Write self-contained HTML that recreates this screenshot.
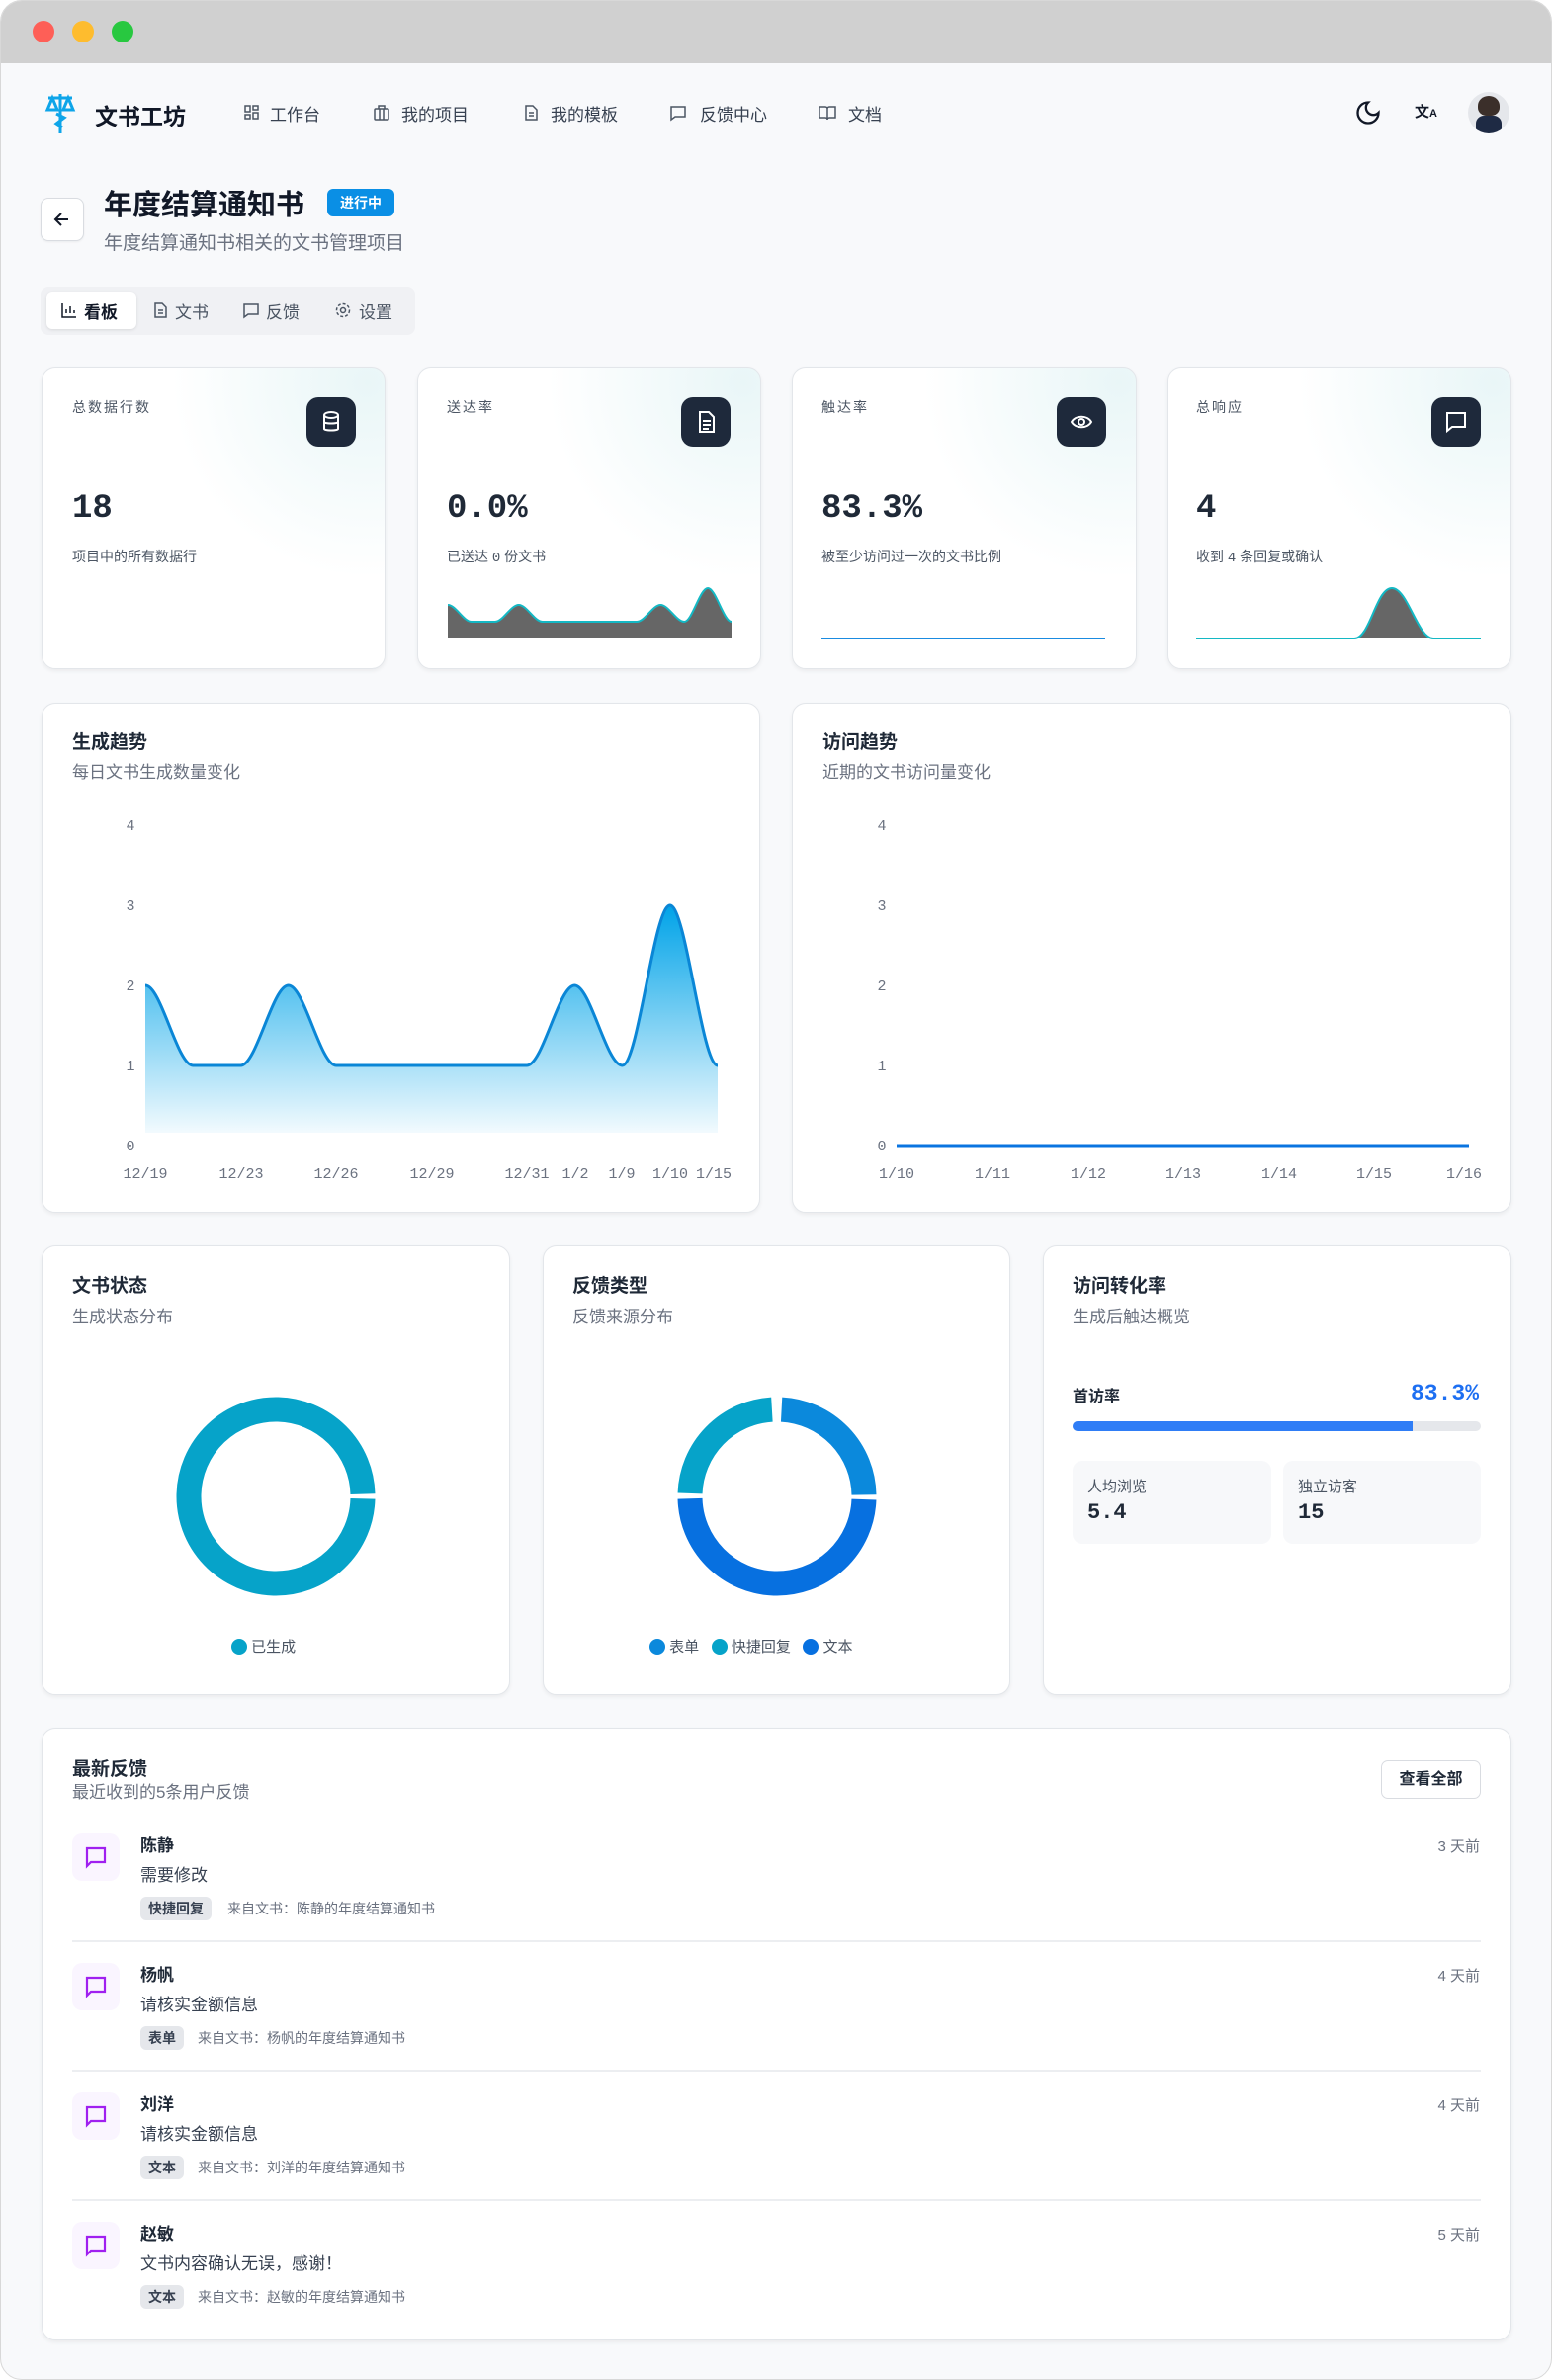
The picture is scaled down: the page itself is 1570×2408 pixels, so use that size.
<!DOCTYPE html>
<html><head><meta charset="utf-8">
<style>
*{margin:0;padding:0;box-sizing:border-box}
body{width:1570px;height:2408px;background:#fff;font-family:"Liberation Sans","Noto Sans CJK SC",sans-serif;color:#1f2937;position:relative;overflow:hidden}
.win{position:absolute;left:0;top:0;width:1570px;height:2408px;background:#f8f9fb;border-radius:22px;overflow:hidden;border:1px solid #d8d8d8}
.tb{position:absolute;left:0;top:0;width:1570px;height:63px;background:#d0d0d0}
.dot{position:absolute;top:20px;width:22px;height:22px;border-radius:50%}
.a{position:absolute}
.card{position:absolute;background:#fff;border:1px solid #e3e6ea;border-radius:14px;box-shadow:0 2px 4px rgba(0,0,0,.06)}
.nav{position:absolute;top:102px;font-size:17px;color:#374151;white-space:nowrap}
.mono{font-family:"Liberation Mono","Noto Sans CJK SC",monospace}
.ct{position:absolute;font-size:19px;font-weight:bold;color:#1f2937}
.cs{position:absolute;font-size:17px;color:#6b7280}
.sl{position:absolute;font-size:14px;color:#4b5563;letter-spacing:2px}
.sv{position:absolute;font-size:34px;font-weight:bold;color:#1f2937}
.sd{position:absolute;font-size:14px;color:#4b5563}
.ib{position:absolute;width:50px;height:50px;border-radius:12px;background:#1e293b}
.tick{font-family:"Liberation Mono",monospace;font-size:15px;fill:#6b7280}
.fb-name{position:absolute;font-size:17px;font-weight:bold;color:#1f2937}
.fb-txt{position:absolute;font-size:17px;color:#374151}
.fb-tag{position:absolute;font-size:14px;font-weight:bold;color:#374151;background:#e5e7eb;border-radius:6px;padding:2px 8px}
.fb-src{position:absolute;font-size:14px;color:#6b7280}
.fb-time{position:absolute;font-size:15px;color:#6b7280;text-align:right;right:72px}
.fb-ic{position:absolute;left:72px;width:48px;height:48px;border-radius:10px;background:#faf5ff}
.sep{position:absolute;left:72px;width:1425px;height:2px;background:#eceef1}
.lg{display:inline-block;width:16px;height:16px;border-radius:50%;vertical-align:-3px}
</style></head><body>
<div class="win">
<div class="tb"></div>
<div class="dot" style="left:32px;background:#fe5f57"></div>
<div class="dot" style="left:72px;background:#febc2e"></div>
<div class="dot" style="left:112px;background:#28c840"></div>

<svg class="a" style="left:44px;top:92px" width="32" height="44" viewBox="0 0 32 44"><path d="M4 6h24M16 2v40M8 6l-5 12h10zM24 6l-5 12h10z M12 22l8 4-8 6 6 4" stroke="#0ea5e9" stroke-width="3" fill="none"/></svg>
<div class="a" style="left:95px;top:98px;font-size:23px;font-weight:bold;color:#111827">文书工坊</div>
<svg class="a" style="left:245px;top:104px" width="18" height="18" viewBox="0 0 18 18" fill="none" stroke="#4b5563" stroke-width="1.5"><rect x="2" y="2" width="5" height="6"/><rect x="10" y="2" width="5" height="4"/><rect x="2" y="11" width="5" height="4"/><rect x="10" y="9" width="5" height="6"/></svg>
<div class="nav" style="left:272px;top:101px">工作台</div>
<svg class="a" style="left:376px;top:104px" width="18" height="18" viewBox="0 0 18 18" fill="none" stroke="#4b5563" stroke-width="1.5"><rect x="2" y="5" width="14" height="11" rx="1"/><path d="M6 5V2h6v3M7 5v11M11 5v11"/></svg>
<div class="nav" style="left:405px;top:101px">我的项目</div>
<svg class="a" style="left:527px;top:104px" width="18" height="18" viewBox="0 0 18 18" fill="none" stroke="#4b5563" stroke-width="1.5"><path d="M4 2h7l4 4v10H4z M7 9h5M7 12h5"/></svg>
<div class="nav" style="left:556px;top:101px">我的模板</div>
<svg class="a" style="left:676px;top:104px" width="18" height="18" viewBox="0 0 18 18" fill="none" stroke="#4b5563" stroke-width="1.5"><path d="M2 3h14v10H6l-4 3z"/></svg>
<div class="nav" style="left:707px;top:101px">反馈中心</div>
<svg class="a" style="left:827px;top:104px" width="18" height="18" viewBox="0 0 18 18" fill="none" stroke="#4b5563" stroke-width="1.5"><path d="M1 3h6a2 2 0 0 1 2 2v11a2 2 0 0 0-2-2H1zM17 3h-6a2 2 0 0 0-2 2v11a2 2 0 0 1 2-2h6z"/></svg>
<div class="nav" style="left:857px;top:101px">文档</div>
<svg class="a" style="left:1369px;top:99px" width="28" height="28" viewBox="0 0 24 24" fill="none" stroke="#111827" stroke-width="2"><path d="M12 3a6 6 0 0 0 9 9 9 9 0 1 1-9-9z"/></svg>
<div class="a" style="left:1430px;top:101px;font-size:15px;color:#111827;font-weight:bold">文<span style="font-size:11px">A</span></div>
<div class="a" style="left:1484px;top:92px;width:42px;height:42px;border-radius:50%;background:#e5e7eb;overflow:hidden"><div style="position:absolute;left:10px;top:4px;width:22px;height:20px;border-radius:50% 50% 40% 40%;background:#3b2f2a"></div><div style="position:absolute;left:8px;top:24px;width:26px;height:22px;border-radius:8px 8px 0 0;background:#1e2a44"></div></div>

<div class="a" style="left:40px;top:199px;width:44px;height:44px;border:1px solid #d9dce1;border-radius:8px;background:#fff;box-shadow:0 1px 2px rgba(0,0,0,.06)"><svg width="42" height="42" viewBox="0 0 42 42"><path d="M27 21H15M20 15l-6 6 6 6" stroke="#111827" stroke-width="2" fill="none"/></svg></div>
<div class="a" style="left:104px;top:183px;font-size:29px;font-weight:bold;color:#111827">年度结算通知书</div>
<div class="a" style="left:330px;top:190px;width:68px;height:28px;border-radius:6px;background:#0a8fe5;color:#fff;font-size:14px;font-weight:bold;text-align:center;line-height:28px">进行中</div>
<div class="a" style="left:104px;top:230px;font-size:19px;color:#6b7280">年度结算通知书相关的文书管理项目</div>

<div class="a" style="left:40px;top:289px;width:379px;height:49px;border-radius:8px;background:#f0f1f4"></div>
<div class="a" style="left:46px;top:294px;width:91px;height:38px;border-radius:6px;background:#fff;box-shadow:0 1px 3px rgba(0,0,0,.1)"></div>
<svg class="a" style="left:60px;top:304px" width="18" height="18" viewBox="0 0 18 18" fill="none" stroke="#111827" stroke-width="1.5"><path d="M2 2v14h14M6 12V8M10 12V5M14 12V9"/></svg>
<div class="a" style="left:84px;top:301px;font-size:17px;color:#111827;font-weight:bold">看板</div>
<svg class="a" style="left:152px;top:304px" width="18" height="18" viewBox="0 0 18 18" fill="none" stroke="#4b5563" stroke-width="1.5"><path d="M4 2h7l4 4v10H4z M7 9h5M7 12h5"/></svg>
<div class="a" style="left:176px;top:301px;font-size:17px;color:#4b5563">文书</div>
<svg class="a" style="left:244px;top:304px" width="18" height="18" viewBox="0 0 18 18" fill="none" stroke="#4b5563" stroke-width="1.5"><path d="M2 3h14v10H6l-4 3z"/></svg>
<div class="a" style="left:268px;top:301px;font-size:17px;color:#4b5563">反馈</div>
<svg class="a" style="left:337px;top:304px" width="18" height="18" viewBox="0 0 18 18" fill="none" stroke="#4b5563" stroke-width="1.5"><circle cx="9" cy="9" r="2.5"/><circle cx="9" cy="9" r="6.5" stroke-dasharray="3 2"/></svg>
<div class="a" style="left:362px;top:301px;font-size:17px;color:#4b5563">设置</div>

<div class="card" style="left:41px;top:370px;width:348px;height:306px;background:radial-gradient(circle at 95% 5%,#e9f6f7 0,#fff 45%)"></div>
<div class="card" style="left:421px;top:370px;width:348px;height:306px;background:radial-gradient(circle at 95% 5%,#e9f6f7 0,#fff 45%)"></div>
<div class="card" style="left:800px;top:370px;width:349px;height:306px;background:radial-gradient(circle at 95% 5%,#e9f6f7 0,#fff 45%)"></div>
<div class="card" style="left:1180px;top:370px;width:348px;height:306px;background:radial-gradient(circle at 95% 5%,#e9f6f7 0,#fff 45%)"></div>

<div class="sl" style="left:72px;top:401px">总数据行数</div>
<div class="sl" style="left:451px;top:401px">送达率</div>
<div class="sl" style="left:830px;top:401px">触达率</div>
<div class="sl" style="left:1209px;top:401px">总响应</div>

<div class="ib" style="left:309px;top:401px"><svg width="50" height="50" viewBox="0 0 50 50" fill="none" stroke="#fff" stroke-width="2"><ellipse cx="25" cy="18" rx="7" ry="3"/><path d="M18 18v14c0 2 14 2 14 0V18M18 25c0 2 14 2 14 0"/></svg></div>
<div class="ib" style="left:688px;top:401px"><svg width="50" height="50" viewBox="0 0 50 50" fill="none" stroke="#fff" stroke-width="2"><path d="M19 15h9l5 5v15H19z M22 24h8M22 28h8M22 32h6"/></svg></div>
<div class="ib" style="left:1068px;top:401px"><svg width="50" height="50" viewBox="0 0 50 50" fill="none" stroke="#fff" stroke-width="2"><path d="M15 25c4-7 16-7 20 0-4 7-16 7-20 0z"/><circle cx="25" cy="25" r="3"/></svg></div>
<div class="ib" style="left:1447px;top:401px"><svg width="50" height="50" viewBox="0 0 50 50" fill="none" stroke="#fff" stroke-width="2"><path d="M16 16h18v14H21l-5 4z"/></svg></div>

<div class="sv mono" style="left:72px;top:495px">18</div>
<div class="sv mono" style="left:451px;top:495px">0.0%</div>
<div class="sv mono" style="left:830px;top:495px">83.3%</div>
<div class="sv mono" style="left:1209px;top:495px">4</div>

<div class="sd" style="left:72px;top:552px">项目中的所有数据行</div>
<div class="sd" style="left:451px;top:552px">已送达 <span class="mono">0</span> 份文书</div>
<div class="sd" style="left:830px;top:552px">被至少访问过一次的文书比例</div>
<div class="sd" style="left:1209px;top:552px">收到 <span class="mono">4</span> 条回复或确认</div>

<svg class="a" style="left:0;top:0" width="1570" height="700">
<path d="M452,611 C460,611 468,628 475.9,628 L499.8,628 C507.8,628 515.8,611 523.75,611 C531.7,611 539.7,628 547.7,628 L643.3,628 C651.3,628 659.3,611 667.25,611 C675.2,611 683.2,628 691.2,628 C699.1,628 707.1,594 715.1,594 C723,594 731,628 739,628 L739,645 L452,645Z" fill="#666"/>
<path d="M452,611 C460,611 468,628 475.9,628 L499.8,628 C507.8,628 515.8,611 523.75,611 C531.7,611 539.7,628 547.7,628 L643.3,628 C651.3,628 659.3,611 667.25,611 C675.2,611 683.2,628 691.2,628 C699.1,628 707.1,594 715.1,594 C723,594 731,628 739,628" fill="none" stroke="#14b8c4" stroke-width="2"/>
<line x1="830" y1="645" x2="1117" y2="645" stroke="#1a8be0" stroke-width="2"/>
<path d="M1369,645 C1385,645 1391,594 1407,594 C1423,594 1433,645 1449,645Z" fill="#666"/>
<path d="M1209,645 L1369,645 C1385,645 1391,594 1407,594 C1423,594 1433,645 1449,645 L1497,645" fill="none" stroke="#14b8c4" stroke-width="2"/>
</svg>

<div class="card" style="left:41px;top:710px;width:727px;height:516px"></div>
<div class="card" style="left:800px;top:710px;width:728px;height:516px"></div>
<div class="ct" style="left:72px;top:735px">生成趋势</div>
<div class="cs" style="left:72px;top:766px">每日文书生成数量变化</div>
<div class="ct" style="left:831px;top:735px">访问趋势</div>
<div class="cs" style="left:831px;top:766px">近期的文书访问量变化</div>

<svg class="a" style="left:0;top:0" width="1570" height="1300">
<defs><linearGradient id="g1" gradientUnits="userSpaceOnUse" x1="0" y1="915" x2="0" y2="1150"><stop offset="0" stop-color="#00a3e8"/><stop offset="1" stop-color="#00a3e8" stop-opacity="0.03"/></linearGradient></defs>
<g class="tick" text-anchor="middle">
<text x="131" y="839">4</text><text x="131" y="920">3</text><text x="131" y="1001">2</text><text x="131" y="1082">1</text><text x="131" y="1163">0</text>
<text x="146" y="1191">12/19</text><text x="243" y="1191">12/23</text><text x="339" y="1191">12/26</text><text x="436" y="1191">12/29</text><text x="532" y="1191">12/31</text><text x="581" y="1191">1/2</text><text x="628" y="1191">1/9</text><text x="677" y="1191">1/10</text><text x="721" y="1191">1/15</text>
<text x="891" y="839">4</text><text x="891" y="920">3</text><text x="891" y="1001">2</text><text x="891" y="1082">1</text><text x="891" y="1163">0</text>
<text x="906" y="1191">1/10</text><text x="1003" y="1191">1/11</text><text x="1100" y="1191">1/12</text><text x="1196" y="1191">1/13</text><text x="1293" y="1191">1/14</text><text x="1389" y="1191">1/15</text><text x="1480" y="1191">1/16</text>
</g>
<path d="M146,996 C162.08,996 178.17,1077 194.25,1077 C210.33,1077 226.42,1077 242.5,1077 C258.58,1077 274.67,996 290.75,996 C306.83,996 322.92,1077 339,1077 L532,1077 C548.08,1077 564.17,996 580.25,996 C596.33,996 612.42,1077 628.5,1077 C644.58,1077 660.67,915 676.75,915 C692.83,915 708.92,1077 725,1077 L725,1145 L146,1145Z" fill="url(#g1)"/>
<path d="M146,996 C162.08,996 178.17,1077 194.25,1077 C210.33,1077 226.42,1077 242.5,1077 C258.58,1077 274.67,996 290.75,996 C306.83,996 322.92,1077 339,1077 L532,1077 C548.08,1077 564.17,996 580.25,996 C596.33,996 612.42,1077 628.5,1077 C644.58,1077 660.67,915 676.75,915 C692.83,915 708.92,1077 725,1077" fill="none" stroke="#0a86d6" stroke-width="3"/>
<line x1="906" y1="1158" x2="1485" y2="1158" stroke="#0a74e0" stroke-width="3"/>
</svg>

<div class="card" style="left:41px;top:1259px;width:474px;height:455px"></div>
<div class="card" style="left:548px;top:1259px;width:473px;height:455px"></div>
<div class="card" style="left:1054px;top:1259px;width:474px;height:455px"></div>
<div class="ct" style="left:72px;top:1285px">文书状态</div>
<div class="cs" style="left:72px;top:1317px">生成状态分布</div>
<div class="ct" style="left:578px;top:1285px">反馈类型</div>
<div class="cs" style="left:578px;top:1317px">反馈来源分布</div>
<div class="ct" style="left:1084px;top:1285px">访问转化率</div>
<div class="cs" style="left:1084px;top:1317px">生成后触达概览</div>

<svg class="a" style="left:0;top:1400px" width="1570" height="300">
<circle cx="278" cy="113" r="88" fill="none" stroke="#06a3c9" stroke-width="25" stroke-dasharray="548 5" transform="rotate(1.5 278 113)"/>
<g transform="translate(785 113)" fill="none" stroke-width="25">
<circle r="88" stroke="#0b89dc" stroke-dasharray="132 500" transform="rotate(-87)"/>
<circle r="88" stroke="#0770e0" stroke-dasharray="271 400" transform="rotate(2)"/>
<circle r="88" stroke="#06a3c9" stroke-dasharray="130 500" transform="rotate(182)"/>
</g>
</svg>
<div class="a" style="left:233px;top:1654px;font-size:15px;color:#4b5563"><span class="lg" style="background:#06a3c9"></span> 已生成</div>
<div class="a" style="left:656px;top:1654px;font-size:15px;color:#4b5563;white-space:nowrap"><span class="lg" style="background:#0b89dc"></span> 表单 &nbsp;&nbsp;<span class="lg" style="background:#06a3c9"></span> 快捷回复 &nbsp;&nbsp;<span class="lg" style="background:#0770e0"></span> 文本</div>

<div class="a" style="left:1084px;top:1398px;font-size:16px;font-weight:bold;color:#1f2937">首访率</div>
<div class="a mono" style="right:73px;top:1396px;font-size:23px;font-weight:bold;color:#1d6ff2">83.3%</div>
<div class="a" style="left:1084px;top:1437px;width:413px;height:10px;border-radius:5px;background:#e5e7eb;overflow:hidden"><div style="width:83.3%;height:10px;background:#2f7df6"></div></div>
<div class="a" style="left:1084px;top:1477px;width:201px;height:84px;border-radius:10px;background:#f7f8fa"></div>
<div class="a" style="left:1297px;top:1477px;width:200px;height:84px;border-radius:10px;background:#f7f8fa"></div>
<div class="a" style="left:1099px;top:1492px;font-size:15px;color:#4b5563">人均浏览</div>
<div class="a mono" style="left:1099px;top:1517px;font-size:22px;font-weight:bold;color:#1f2937">5.4</div>
<div class="a" style="left:1312px;top:1492px;font-size:15px;color:#4b5563">独立访客</div>
<div class="a mono" style="left:1312px;top:1517px;font-size:22px;font-weight:bold;color:#1f2937">15</div>

<div class="card" style="left:41px;top:1747px;width:1487px;height:620px"></div>
<div class="a" style="left:72px;top:1774px;font-size:19px;font-weight:bold;color:#1f2937">最新反馈</div>
<div class="a" style="left:72px;top:1798px;font-size:17px;color:#6b7280">最近收到的5条用户反馈</div>
<div class="a" style="left:1396px;top:1780px;width:101px;height:39px;border:1px solid #d9dce1;border-radius:7px;background:#fff;font-size:16px;font-weight:bold;text-align:center;line-height:37px;color:#1f2937">查看全部</div>

<div class="fb-ic" style="top:1854px"><svg width="48" height="48" viewBox="0 0 48 48" fill="none" stroke="#a020f0" stroke-width="2.2"><path d="M15 15h18v14H19l-4 4z"/></svg></div>
<div class="fb-name" style="left:141px;top:1852px">陈静</div>
<div class="fb-txt" style="left:141px;top:1882px">需要修改</div>
<div class="fb-tag" style="left:141px;top:1918px">快捷回复</div>
<div class="fb-src" style="left:229px;top:1920px">来自文书：陈静的年度结算通知书</div>
<div class="fb-time" style="top:1856px">3 天前</div>
<div class="sep" style="top:1962px"></div>

<div class="fb-ic" style="top:1985px"><svg width="48" height="48" viewBox="0 0 48 48" fill="none" stroke="#a020f0" stroke-width="2.2"><path d="M15 15h18v14H19l-4 4z"/></svg></div>
<div class="fb-name" style="left:141px;top:1983px">杨帆</div>
<div class="fb-txt" style="left:141px;top:2013px">请核实金额信息</div>
<div class="fb-tag" style="left:141px;top:2049px">表单</div>
<div class="fb-src" style="left:199px;top:2051px">来自文书：杨帆的年度结算通知书</div>
<div class="fb-time" style="top:1987px">4 天前</div>
<div class="sep" style="top:2093px"></div>

<div class="fb-ic" style="top:2116px"><svg width="48" height="48" viewBox="0 0 48 48" fill="none" stroke="#a020f0" stroke-width="2.2"><path d="M15 15h18v14H19l-4 4z"/></svg></div>
<div class="fb-name" style="left:141px;top:2114px">刘洋</div>
<div class="fb-txt" style="left:141px;top:2144px">请核实金额信息</div>
<div class="fb-tag" style="left:141px;top:2180px">文本</div>
<div class="fb-src" style="left:199px;top:2182px">来自文书：刘洋的年度结算通知书</div>
<div class="fb-time" style="top:2118px">4 天前</div>
<div class="sep" style="top:2224px"></div>

<div class="fb-ic" style="top:2247px"><svg width="48" height="48" viewBox="0 0 48 48" fill="none" stroke="#a020f0" stroke-width="2.2"><path d="M15 15h18v14H19l-4 4z"/></svg></div>
<div class="fb-name" style="left:141px;top:2245px">赵敏</div>
<div class="fb-txt" style="left:141px;top:2275px">文书内容确认无误，感谢！</div>
<div class="fb-tag" style="left:141px;top:2311px">文本</div>
<div class="fb-src" style="left:199px;top:2313px">来自文书：赵敏的年度结算通知书</div>
<div class="fb-time" style="top:2249px">5 天前</div>
</div>
</body></html>
